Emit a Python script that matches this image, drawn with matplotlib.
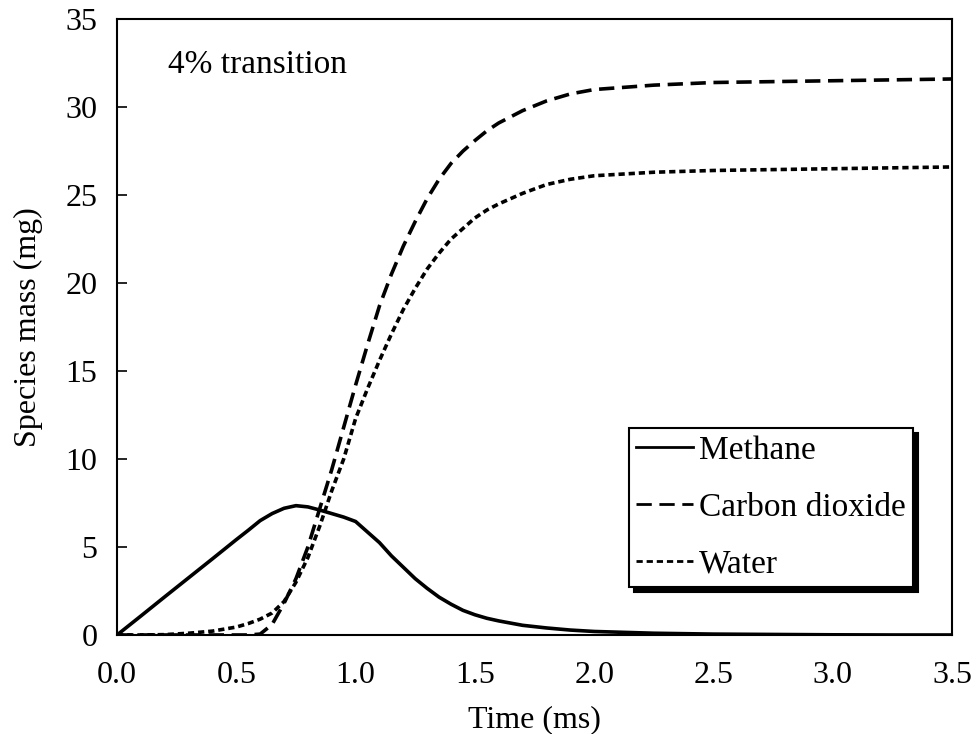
import matplotlib
matplotlib.use("Agg")
import matplotlib.pyplot as plt

plt.rcParams['font.family'] = ['Liberation Serif', 'DejaVu Serif']
plt.rcParams['lines.scale_dashes'] = False

# time in ms
time_ms = [0.0, 0.1, 0.2, 0.3, 0.4, 0.5, 0.55, 0.6, 0.65, 0.7, 0.75, 0.8,
           0.85, 0.9, 0.95, 1.0, 1.05, 1.1, 1.15, 1.2, 1.25, 1.3, 1.35, 1.4,
           1.45, 1.5, 1.55, 1.6, 1.7, 1.8, 1.9, 2.0, 2.25, 2.5, 2.75, 3.0,
           3.25, 3.5]

# species mass in mg
methane = [0.0, 1.08, 2.17, 3.25, 4.33, 5.42, 5.95, 6.5, 6.9, 7.2, 7.35, 7.28,
           7.1, 6.9, 6.7, 6.45, 5.85, 5.25, 4.5, 3.85, 3.2, 2.65, 2.15, 1.75,
           1.4, 1.15, 0.95, 0.8, 0.55, 0.4, 0.28, 0.2, 0.1, 0.05, 0.03, 0.01,
           0.0, 0.0]
carbon_dioxide = [0.0, 0.0, 0.0, 0.0, 0.0, 0.0, 0.0, 0.05, 0.6, 1.8, 3.2, 5.0,
                  7.2, 9.4, 11.8, 14.2, 16.5, 18.7, 20.5, 22.1, 23.5, 24.8, 25.9, 26.8,
                  27.5, 28.1, 28.65, 29.1, 29.8, 30.35, 30.75, 31.0, 31.25, 31.4, 31.45, 31.5,
                  31.55, 31.6]
water = [0.0, 0.0, 0.02, 0.1, 0.22, 0.45, 0.65, 0.9, 1.25, 1.9, 3.0, 4.4,
         6.2, 8.2, 10.0, 12.3, 14.0, 15.6, 17.1, 18.5, 19.7, 20.8, 21.7, 22.5,
         23.1, 23.7, 24.15, 24.5, 25.1, 25.6, 25.9, 26.1, 26.3, 26.4, 26.45, 26.5,
         26.55, 26.6]

x_ticks = [0.0, 0.5, 1.0, 1.5, 2.0, 2.5, 3.0, 3.5]
y_ticks = [0, 5, 10, 15, 20, 25, 30, 35]

fig = plt.figure(figsize=(9.77, 7.34), dpi=100)
ax = fig.add_axes([0.1198, 0.1349, 0.8546, 0.839])

ax.plot(time_ms, methane, color='black', lw=2.6, label='Methane')
ax.plot(time_ms, carbon_dioxide, color='black', lw=2.6,
        linestyle=(0, (11, 5.5)), label='Carbon dioxide')
ax.plot(time_ms, water, color='black', lw=2.6,
        linestyle=(0, (4.5, 2.8)), label='Water')

ax.set_xlim(0, 3.5)
ax.set_ylim(0, 35)
ax.set_xticks(x_ticks)
ax.set_xticklabels([f'{v:.1f}' for v in x_ticks])
ax.set_yticks(y_ticks)
ax.tick_params(axis='y', direction='in', length=7, width=1.2, pad=14, labelsize=23)
ax.tick_params(axis='x', direction='in', length=0, pad=19, labelsize=23)
for sp in ax.spines.values():
    sp.set_linewidth(1.5)

ax.set_xlabel('Time (ms)', fontsize=23, labelpad=11)
ax.set_ylabel('Species mass (mg)', fontsize=23)
ax.yaxis.set_label_coords(-0.089, 0.5)

ax.text(0.061, 0.912, '4% transition', transform=ax.transAxes,
        fontsize=24, ha='left', va='baseline')

leg = ax.legend(loc='lower right', bbox_to_anchor=(0.953, 0.078),
                fontsize=24, frameon=True, fancybox=False,
                shadow={'ox': 3.5, 'oy': -3.5, 'color': 'black', 'alpha': 1},
                handlelength=1.7, handletextpad=0.18, labelspacing=0.79,
                borderpad=0.22, borderaxespad=0)
leg.get_frame().set_edgecolor('black')
leg.get_frame().set_linewidth(1.5)
for line in leg.get_lines():
    line.set_linewidth(2.0)

fig.savefig('out.png', dpi=100)
